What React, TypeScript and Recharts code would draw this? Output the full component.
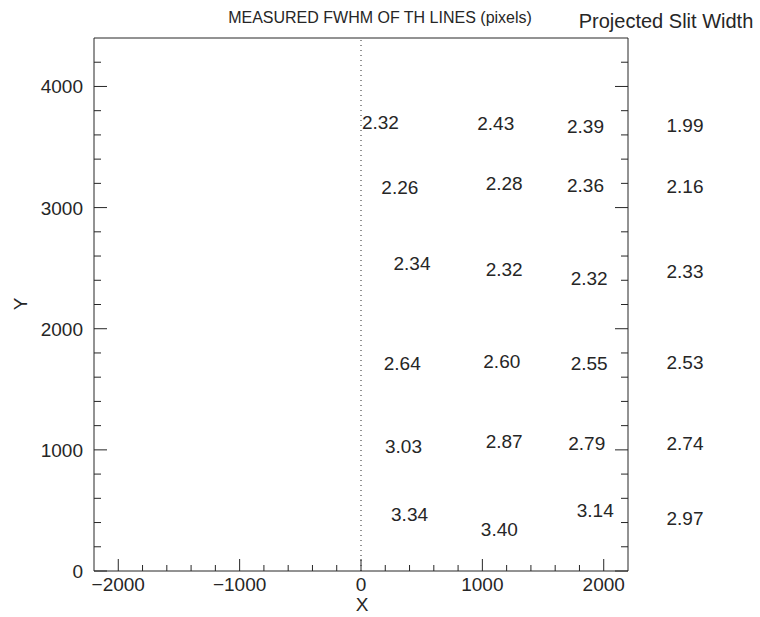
import React from 'react';
import { ScatterChart, Scatter, XAxis, YAxis, ReferenceLine } from 'recharts';

// measured FWHM labels, placed at their (x, y) detector position
const fwhmX = [160, 1110, 1850, 320, 1180, 1850, 420, 1180, 1880, 340, 1160, 1880, 350, 1180, 1860, 400, 1140, 1930];
const fwhmY = [3710, 3700, 3670, 3170, 3200, 3190, 2540, 2490, 2420, 1720, 1730, 1720, 1030, 1070, 1060, 470, 350, 500];
const fwhmText = ['2.32', '2.43', '2.39', '2.26', '2.28', '2.36', '2.34', '2.32', '2.32', '2.64', '2.60', '2.55', '3.03', '2.87', '2.79', '3.34', '3.40', '3.14'];

// projected slit width column, right of the frame
const slitY = [3680, 3180, 2475, 1725, 1055, 440];
const slitText = ['1.99', '2.16', '2.33', '2.53', '2.74', '2.97'];

const xTicks = [-2000, -1800, -1600, -1400, -1200, -1000, -800, -600, -400, -200, 0, 200, 400, 600, 800, 1000, 1200, 1400, 1600, 1800, 2000];
const yTicks = [0, 200, 400, 600, 800, 1000, 1200, 1400, 1600, 1800, 2000, 2200, 2400, 2600, 2800, 3000, 3200, 3400, 3600, 3800, 4000, 4200];
const xDomain = [-2200, 2200];
const yDomain = [0, 4400];

const fwhmData = fwhmX.map((x, i) => ({ x, y: fwhmY[i], label: fwhmText[i] }));
const slitData = slitY.map((y, i) => ({ x: xDomain[1], y, label: slitText[i] }));

const FONT = '"Liberation Sans", Arial, sans-serif';
const INK = '#262626';

const isMajor = (v: number) => v % 1000 === 0;
const fmt = (v: number) => (v < 0 ? '\u2212' + Math.abs(v) : String(v));

const BottomTick = (props: any) => {
  const { x, y, payload } = props;
  const major = isMajor(payload.value);
  return (
    <g>
      <line x1={x} x2={x} y1={y} y2={y - (major ? 12 : 6)} stroke={INK} />
      {major && (
        <text x={x} y={y + 20} textAnchor="middle" fontSize={19} fontFamily={FONT} fill={INK}>
          {fmt(payload.value)}
        </text>
      )}
    </g>
  );
};

const TopTick = (props: any) => {
  const { x, y, payload } = props;
  const major = isMajor(payload.value);
  return <line x1={x} x2={x} y1={y} y2={y + (major ? 12 : 6)} stroke={INK} />;
};

const LeftTick = (props: any) => {
  const { x, y, payload } = props;
  const major = isMajor(payload.value);
  return (
    <g>
      <line x1={x} x2={x + (major ? 13 : 7)} y1={y} y2={y} stroke={INK} />
      {major && (
        <text x={x - 11} y={y + 7} textAnchor="end" fontSize={19} fontFamily={FONT} fill={INK}>
          {fmt(payload.value)}
        </text>
      )}
    </g>
  );
};

const RightTick = (props: any) => {
  const { x, y, payload } = props;
  const major = isMajor(payload.value);
  return <line x1={x} x2={x - (major ? 13 : 7)} y1={y} y2={y} stroke={INK} />;
};

const ValueText = (dx: number) => (props: any) => {
  const { cx, cy, payload } = props;
  return (
    <text x={cx + dx} y={cy} dy={7} textAnchor="middle" fontSize={19} fontFamily={FONT} fill={INK}>
      {payload.label}
    </text>
  );
};

const textStyle: React.CSSProperties = {
  position: 'absolute',
  transform: 'translate(-50%, -50%)',
  whiteSpace: 'nowrap',
  fontFamily: FONT,
  color: INK,
  lineHeight: 1,
};

export default function App() {
  return (
    <div style={{ position: 'absolute', left: 0, top: 0, width: 760, height: 617, background: '#fff' }}>
      <ScatterChart width={760} height={617} margin={{ top: 30, right: 122, bottom: 6, left: 34 }}>
        <XAxis
          dataKey="x"
          type="number"
          domain={xDomain}
          ticks={xTicks}
          interval={0}
          height={40}
          tickSize={0}
          tickMargin={0}
          tickLine={false}
          tick={<BottomTick />}
          axisLine={{ stroke: INK }}
        />
        <XAxis
          xAxisId="top"
          orientation="top"
          type="number"
          domain={xDomain}
          allowDataOverflow
          ticks={xTicks}
          interval={0}
          height={8}
          tickSize={0}
          tickMargin={0}
          tickLine={false}
          tick={<TopTick />}
          axisLine={{ stroke: INK }}
        />
        <YAxis
          dataKey="y"
          type="number"
          domain={yDomain}
          ticks={yTicks}
          interval={0}
          width={60}
          tickSize={0}
          tickMargin={0}
          tickLine={false}
          tick={<LeftTick />}
          axisLine={{ stroke: INK }}
        />
        <YAxis
          yAxisId="right"
          orientation="right"
          type="number"
          domain={yDomain}
          allowDataOverflow
          ticks={yTicks}
          interval={0}
          width={10}
          tickSize={0}
          tickMargin={0}
          tickLine={false}
          tick={<RightTick />}
          axisLine={{ stroke: INK }}
        />
        <ReferenceLine x={0} stroke={INK} strokeDasharray="1 4" />
        <Scatter data={fwhmData} shape={ValueText(0)} isAnimationActive={false} />
        <Scatter data={slitData} shape={ValueText(57)} isAnimationActive={false} />
      </ScatterChart>
      <div style={{ ...textStyle, left: 380, top: 18, fontSize: 16 }}>MEASURED FWHM OF TH LINES (pixels)</div>
      <div style={{ ...textStyle, left: 666, top: 21, fontSize: 20 }}>Projected Slit Width</div>
      <div style={{ ...textStyle, left: 362, top: 604, fontSize: 19 }}>X</div>
      <div style={{ ...textStyle, left: 20, top: 304, fontSize: 19, transform: 'translate(-50%, -50%) rotate(-90deg)' }}>Y</div>
    </div>
  );
}
